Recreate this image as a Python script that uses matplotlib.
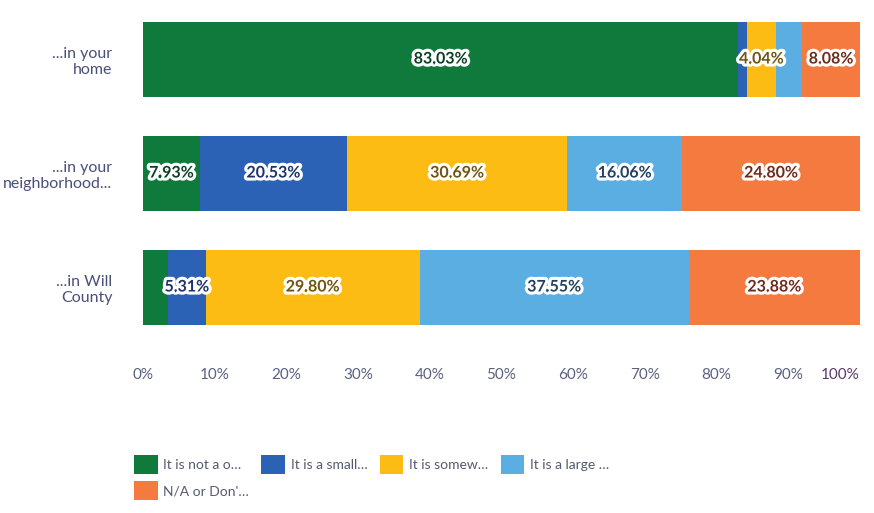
import matplotlib
matplotlib.use("Agg")
import matplotlib.pyplot as plt
import matplotlib.patheffects as pe
from matplotlib.patches import Patch
import numpy as np

categories = ["...in your\nhome", "...in your\nneighborhood...", "...in Will\nCounty"]
series_names = ["It is not a o…", "It is a small…", "It is somew…", "It is a large …", "N/A or Don'…"]
not_a_problem = [83.03, 7.93, 3.46]
small_problem = [1.21, 20.53, 5.31]
somewhat_problem = [4.04, 30.69, 29.80]
large_problem = [3.64, 16.06, 37.55]
na_dont_know = [8.08, 24.80, 23.88]
tick_labels = ["0%", "10%", "20%", "30%", "40%", "50%", "60%", "70%", "80%", "90%", "100%"]

series = [not_a_problem, small_problem, somewhat_problem, large_problem, na_dont_know]
colors = ["#0f7a3c", "#2c62b6", "#fcbc14", "#5aaee1", "#f47a3f"]
label_colors = ["#0c3f24", "#1c336b", "#6e5410", "#24405f", "#6e2a1a"]

plt.rcParams['font.family'] = ['Lato', 'DejaVu Sans']

fig = plt.figure(figsize=(8.74, 5.13), dpi=100)
ax = fig.add_axes([143/874, 1-344.5/513, (860-143)/874, (344.5-2.5)/513])

y = np.arange(len(categories))
left = np.zeros(len(categories))
for vals, c, lc in zip(series, colors, label_colors):
    vals = np.array(vals)
    ax.barh(y, vals, left=left, height=0.66, color=c, edgecolor='none')
    for yi, (l, v) in enumerate(zip(left, vals)):
        if v >= 4:
            ax.text(l + v/2, yi, f"{v:.2f}%", ha='center', va='center',
                    fontsize=11.5, fontweight='bold', color=lc,
                    path_effects=[pe.withStroke(linewidth=4.5, foreground='white')])
    left += vals

ax.set_xlim(0, 100)
ax.set_ylim(2.5, -0.5)
ax.set_yticks(y)
ax.set_yticklabels(categories, fontsize=11.5, color="#4a4f7a", ha='right')
ax.set_xticks(np.arange(0, 101, 10))
ax.set_xticklabels(tick_labels, fontsize=11, color="#5a6080")
ax.get_xticklabels()[-1].set_ha('right')
ax.get_xticklabels()[-1].set_color('#5a3a6a')
ax.tick_params(axis='both', length=0)
ax.tick_params(axis='x', pad=17)
ax.tick_params(axis='y', pad=22)
for s in ax.spines.values():
    s.set_visible(False)

handles = [Patch(facecolor=c, edgecolor='none') for c in colors]
order = [0, 4, 1, 2, 3]
fig.legend([handles[i] for i in order], [series_names[i] for i in order],
           loc='upper left', bbox_to_anchor=(134/874, 1-455/513),
           ncol=4, frameon=False, fontsize=10, labelcolor="#555a70",
           handlelength=1.7, handleheight=1.7, handletextpad=0.4,
           columnspacing=0.9, borderaxespad=0, borderpad=0, labelspacing=0.55)

fig.savefig("out.png", dpi=100)
